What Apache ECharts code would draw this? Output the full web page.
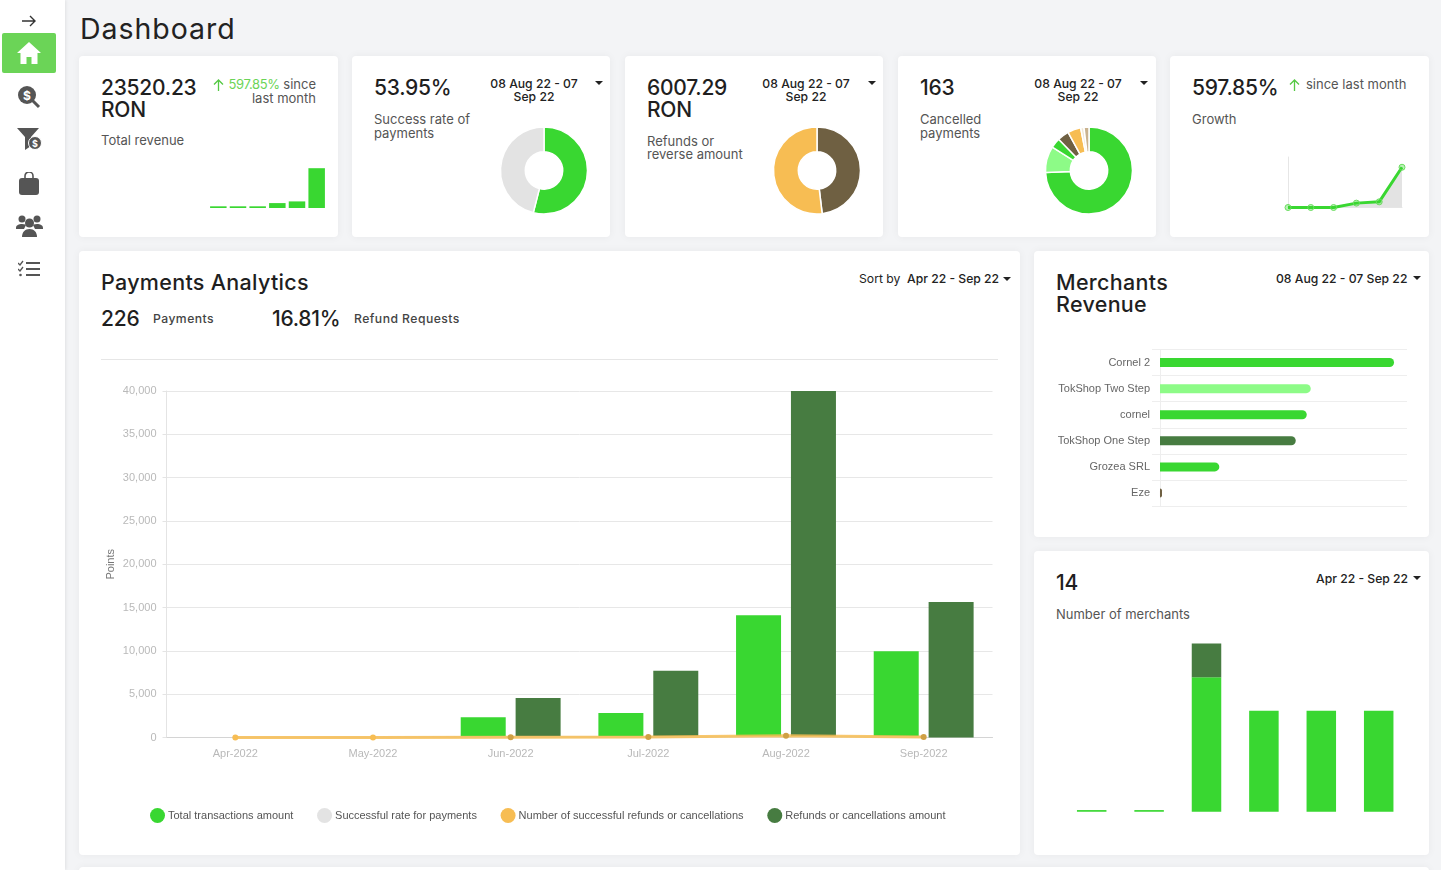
<!DOCTYPE html>
<html>
<head>
<meta charset="utf-8">
<title>Dashboard</title>
<script src="https://cdn.jsdelivr.net/npm/echarts@6/dist/echarts.min.js"></script>
<style>
html, body { margin: 0; padding: 0; width: 1441px; height: 870px; overflow: hidden; background: #f3f4f6; font-family: Inter, "Noto Sans", sans-serif; color: #1f1f1f; }
.side { position: absolute; left: 0; top: 0; width: 65px; height: 870px; background: #fff; box-shadow: 1px 0 3px rgba(0,0,0,.08); }
.home { position: absolute; left: 2px; top: 33px; width: 54px; height: 40px; background: #6bd457; border-radius: 2px; }
.card { position: absolute; background: #fff; border-radius: 4px; box-shadow: 0 0 8px rgba(0,0,0,.05); }
.t { position: absolute; white-space: nowrap; }
.big { font-size: 21.5px; font-weight: 500; line-height: 21.5px; color: #1f1f1f; letter-spacing: .3px; }
.num { font-size: 21px; font-weight: 500; line-height: 22px; color: #1f1f1f; letter-spacing: -.25px; }
.sub { font-size: 13px; line-height: 13.5px; color: #555; }
.date { font-size: 12.2px; font-weight: 500; line-height: 13px; color: #222; text-align: center; }
.label { font-size: 12.2px; font-weight: 500; line-height: 13px; color: #444; letter-spacing: .45px; }
.caret { position: absolute; width: 0; height: 0; border-left: 4px solid transparent; border-right: 4px solid transparent; border-top: 4px solid #222; }
.chart { position: absolute; }
svg { position: absolute; }
</style>
</head>
<body>
<div class="side">
  <svg style="left:21px;top:14px" width="16" height="14" viewBox="0 0 16 14" fill="none" stroke="#333" stroke-width="1.4"><path d="M1 7h13M9 2l5 5-5 5"/></svg>
  <div class="home"></div>
  <svg style="left:17px;top:41px" width="24" height="24" viewBox="0 0 24 24" fill="#fff"><path d="M12 1L0 12h3.500v11h6v-7h5v7h6V12H24z"/></svg>
  <svg style="left:17px;top:85px" width="24" height="24" viewBox="0 0 24 24"><circle cx="10" cy="10" r="9" fill="#555"/><path d="M15 15l7 7" stroke="#555" stroke-width="3"/><text x="10" y="14.500" font-size="12" font-weight="700" fill="#fff" text-anchor="middle">$</text></svg>
  <svg style="left:16px;top:127px" width="27" height="24" viewBox="0 0 27 24"><path d="M1 1h22l-8 9v9l-6 4V10z" fill="#555"/><circle cx="19" cy="16" r="6.500" fill="#555" stroke="#fff"/><text x="19" y="19.500" font-size="9" font-weight="700" fill="#fff" text-anchor="middle">$</text></svg>
  <svg style="left:19px;top:172px" width="20" height="23" viewBox="0 0 20 23"><rect x="0" y="6" width="20" height="17" rx="3" fill="#555"/><path d="M6 9V4a4 4 0 0 1 8 0v5" fill="none" stroke="#555" stroke-width="1.600"/></svg>
  <svg style="left:16px;top:214px" width="27" height="23" viewBox="0 0 27 23" fill="#555"><circle cx="6" cy="5" r="3.500"/><circle cx="21" cy="5" r="3.500"/><path d="M0 14c0-3 3-4 6-4s4 1 4 1l-2 4H0zM27 14c0-3-3-4-6-4s-4 1-4 1l2 4h8z"/><circle cx="13.500" cy="9" r="4.500"/><path d="M6 23c0-5 3-8 7.500-8s7.500 3 7.500 8z"/></svg>
  <svg style="left:18px;top:260px" width="22" height="18" viewBox="0 0 22 18" fill="none" stroke="#555" stroke-width="2"><path d="M8 3h14M8 9h14M8 15h14"/><path d="M0 3l2 2 3-4M0 9l2 2 3-4" stroke-width="1.300"/><circle cx="2.500" cy="15" r="1.300" fill="#555" stroke="none"/></svg>
</div>

<div class="t" style="left:80px;top:12px;font-size:28.500px;line-height:34px;color:#222;letter-spacing:.95px">Dashboard</div>

<div class="card" style="left:79px;top:56px;width:259px;height:181px"></div>
<div class="card" style="left:352px;top:56px;width:258px;height:181px"></div>
<div class="card" style="left:625px;top:56px;width:258px;height:181px"></div>
<div class="card" style="left:898px;top:56px;width:258px;height:181px"></div>
<div class="card" style="left:1170px;top:56px;width:259px;height:181px"></div>
<div class="card" style="left:79px;top:251px;width:941px;height:604px"></div>
<div class="card" style="left:1034px;top:251px;width:395px;height:286px"></div>
<div class="card" style="left:1034px;top:551px;width:395px;height:304px"></div>
<div class="card" style="left:79px;top:867px;width:1350px;height:20px"></div>

<div class="t num" style="left:101px;top:76.500px">23520.23<br>RON</div>
<svg style="left:213px;top:79px" width="11" height="12" viewBox="0 0 11 12" fill="none" stroke="#55c944" stroke-width="1.300"><path d="M5.500 12V1M1 5.500l4.500-4.500 4.500 4.500"/></svg>
<div class="t sub" style="right:1125px;top:78px;text-align:right"><span style="color:#6bd457;letter-spacing:-.35px">597.85%</span> since<br>last month</div>
<div class="t sub" style="left:101px;top:134px">Total revenue</div>

<div class="t num" style="left:374px;top:76.500px">53.95%</div>
<div class="t date" style="left:483px;width:102px;top:77px">08 Aug 22 - 07<br>Sep 22</div>
<div class="caret" style="left:595px;top:81px"></div>
<div class="t sub" style="left:374px;top:113px">Success rate of<br>payments</div>

<div class="t num" style="left:647px;top:76.500px">6007.29<br>RON</div>
<div class="t date" style="left:755px;width:102px;top:77px">08 Aug 22 - 07<br>Sep 22</div>
<div class="caret" style="left:868px;top:81px"></div>
<div class="t sub" style="left:647px;top:134.500px">Refunds or<br>reverse amount</div>

<div class="t num" style="left:920px;top:76.500px">163</div>
<div class="t date" style="left:1027px;width:102px;top:77px">08 Aug 22 - 07<br>Sep 22</div>
<div class="caret" style="left:1140px;top:81px"></div>
<div class="t sub" style="left:920px;top:113px">Cancelled<br>payments</div>

<div class="t num" style="left:1192px;top:76.500px">597.85%</div>
<svg style="left:1289px;top:79px" width="11" height="12" viewBox="0 0 11 12" fill="none" stroke="#55c944" stroke-width="1.300"><path d="M5.500 12V1M1 5.500l4.500-4.500 4.500 4.500"/></svg>
<div class="t sub" style="left:1306px;top:78px">since last month</div>
<div class="t sub" style="left:1192px;top:113px">Growth</div>

<div class="t big" style="left:101px;top:272px">Payments Analytics</div>
<div class="t date" style="left:859px;top:272px;font-weight:400">Sort by</div>
<div class="t date" style="left:907px;top:272px">Apr 22 - Sep 22</div>
<div class="caret" style="left:1003px;top:277px"></div>
<div class="t num" style="left:101px;top:308px">226</div>
<div class="t label" style="left:153px;top:312px">Payments</div>
<div class="t num" style="left:272px;top:308px">16.81%</div>
<div class="t label" style="left:354px;top:312px">Refund Requests</div>
<div style="position:absolute;left:101px;top:359px;width:897px;height:1px;background:#e6e6e6"></div>

<div class="t big" style="left:1056px;top:272px">Merchants<br>Revenue</div>
<div class="t date" style="left:1276px;top:272px">08 Aug 22 - 07 Sep 22</div>
<div class="caret" style="left:1413px;top:276px"></div>

<div class="t num" style="left:1056px;top:572px">14</div>
<div class="t date" style="left:1316px;top:572px">Apr 22 - Sep 22</div>
<div class="caret" style="left:1413px;top:576px"></div>
<div class="t sub" style="left:1056px;top:608px">Number of merchants</div>

<div id="revenueBars" class="chart" style="left:200px;top:160px;width:135px;height:60px"></div>
<div id="successPie" class="chart" style="left:494px;top:120px;width:100px;height:100px"></div>
<div id="refundPie" class="chart" style="left:767px;top:120px;width:100px;height:100px"></div>
<div id="cancelPie" class="chart" style="left:1039px;top:120px;width:100px;height:100px"></div>
<div id="growthLine" class="chart" style="left:1270px;top:150px;width:150px;height:70px"></div>
<div id="analytics" class="chart" style="left:79px;top:360px;width:941px;height:490px"></div>
<div id="merchants" class="chart" style="left:1034px;top:340px;width:395px;height:180px"></div>
<div id="merchantCount" class="chart" style="left:1034px;top:630px;width:395px;height:200px"></div>

<script>
const green = '#39d731';
const darkGreen = '#477c41';
const lightGreen = '#8dfb87';
const orange = '#f7bd53';
const grey = '#e3e3e3';
const brown = '#6f6042';

const months = ['Apr-2022', 'May-2022', 'Jun-2022', 'Jul-2022', 'Aug-2022', 'Sep-2022'];
const totalAmount = [0, 0, 2340, 2820, 14100, 9950];
const refundAmount = [0, 0, 4550, 7720, 40000, 15650];
const refundCount = [0, 0, 30, 60, 190, 60];
const successRate = [0, 0, 50, 52, 54, 54];

const revenueValues = [1000, 1000, 1000, 2900, 3900, 23520];
const growthValues = [0, 0, 0, 65, 84, 598];
const successSlices = [53.95, 46.05];
const refundSlices = [48.1, 51.9];
const cancelSlices = [121, 16, 6, 7, 8, 2, 3];

const merchantNames = ['Cornel 2', 'TokShop Two Step', 'cornel', 'TokShop One Step', 'Grozea SRL', 'Eze'];
const merchantRevenue = [7560, 4870, 4740, 4385, 1916, 65];
const merchantColors = [green, lightGreen, green, darkGreen, green, brown];

const countActive = [0.05, 0.05, 4, 3, 3, 3];
const countNew = [0, 0, 1, 0, 0, 0];

const legendNames = ['Total transactions amount', 'Successful rate for payments', 'Number of successful refunds or cancellations', 'Refunds or cancellations amount'];

const display_pie = (id, values, colors) => {
    const myChart = echarts.init(document.getElementById(id));
    myChart.setOption({
        animation: false,
        series: [{
            type: 'pie',
            center: [50, 50.5],
            radius: [18.7, 43.5],
            silent: true,
            label: { show: false },
            labelLine: { show: false },
            itemStyle: { borderColor: '#fff', borderWidth: 1.5 },
            color: colors,
            data: values.map(v => ({ value: v }))
        }]
    });
}

const display_revenue = () => {
    const myChart = echarts.init(document.getElementById('revenueBars'));
    myChart.setOption({
        animation: false,
        grid: { left: 8.5, right: 8.5, top: 4, bottom: 12 },
        xAxis: { type: 'category', show: false, data: months },
        yAxis: { type: 'value', show: false, min: 0, max: 26000 },
        series: [{ type: 'bar', barWidth: 16.5, color: green, data: revenueValues }]
    });
}

const display_growth = () => {
    const myChart = echarts.init(document.getElementById('growthLine'));
    myChart.setOption({
        animation: false,
        grid: { left: 18, right: 18, top: 7, bottom: 12.5 },
        xAxis: {
            type: 'category', boundaryGap: false, data: months,
            axisLabel: { show: false }, axisTick: { show: false },
            axisLine: { lineStyle: { color: '#e6e6e6' } }
        },
        yAxis: {
            type: 'value', min: 0, max: 750,
            axisLabel: { show: false }, axisTick: { show: false }, splitLine: { show: false },
            axisLine: { show: true, lineStyle: { color: '#e6e6e6' } }
        },
        series: [{
            type: 'line',
            clip: false,
            data: growthValues,
            symbol: 'circle',
            symbolSize: 6,
            lineStyle: { color: green, width: 3 },
            itemStyle: { color: 'rgba(57,215,49,.35)', borderColor: '#6bdc60', borderWidth: 1 },
            areaStyle: { color: grey, opacity: 1 }
        }]
    });
}

const display_analytics = () => {
    const myChart = echarts.init(document.getElementById('analytics'));
    const lineLabel = { fontFamily: 'Liberation Sans', fontSize: 11, color: '#b9b9b9' };
    myChart.setOption({
        animation: false,
        grid: { left: 87.5, right: 27.5, top: 31, bottom: 112.5 },
        legend: {
            data: legendNames,
            top: 443,
            left: 66,
            icon: 'circle',
            itemWidth: 15,
            itemHeight: 15,
            itemGap: 23.7,
            textStyle: { fontFamily: 'Liberation Sans', fontSize: 11, color: '#555', padding: [0, 0, 0, -2] }
        },
        xAxis: {
            type: 'category',
            data: months,
            axisLabel: { ...lineLabel, margin: 11 },
            axisTick: { show: false },
            axisLine: { lineStyle: { color: '#d4d4d4' } }
        },
        yAxis: {
            type: 'value',
            min: 0,
            max: 40000,
            interval: 5000,
            name: 'Points',
            nameLocation: 'middle',
            nameGap: 50,
            nameMoveOverlap: false,
            nameTextStyle: { fontFamily: 'Liberation Sans', fontSize: 11, color: '#777' },
            axisLabel: { ...lineLabel, margin: 10 },
            axisLine: { show: true, lineStyle: { color: '#e4e4e4' } },
            axisTick: { show: true, length: 4, lineStyle: { color: '#e4e4e4' } },
            splitLine: { lineStyle: { color: '#e7e7e7' } }
        },
        series: [
            { name: legendNames[0], type: 'bar', barWidth: 45, barGap: '22%', color: green, data: totalAmount },
            { name: legendNames[3], type: 'bar', barWidth: 45, color: darkGreen, data: refundAmount },
            { name: legendNames[1], type: 'line', color: grey, symbol: 'none', lineStyle: { width: 2 }, data: successRate },
            {
                name: legendNames[2], type: 'line', color: orange, symbol: 'circle', symbolSize: 6,
                lineStyle: { width: 3, opacity: .85 },
                itemStyle: { color: p => p.dataIndex >= 2 ? '#cfa045' : orange },
                data: refundCount
            }
        ]
    });
}

const display_merchants = () => {
    const myChart = echarts.init(document.getElementById('merchants'));
    myChart.setOption({
        animation: false,
        grid: { left: 118, width: 255, top: 9.5, height: 156.5 },
        xAxis: { type: 'value', show: false, min: -258, max: 7978 },
        yAxis: {
            type: 'category',
            inverse: true,
            data: merchantNames,
            axisLabel: { fontFamily: 'Liberation Sans', fontSize: 11, color: '#666', margin: 2 },
            axisTick: { show: false },
            axisLine: { show: true, onZero: true, lineStyle: { color: '#eeeeee' } },
            splitLine: { show: true, lineStyle: { color: '#eeeeee' } }
        },
        series: [{
            type: 'bar',
            barWidth: 9,
            itemStyle: { borderRadius: [0, 5, 5, 0], color: p => merchantColors[p.dataIndex] },
            data: merchantRevenue
        }]
    });
}

const display_count = () => {
    const myChart = echarts.init(document.getElementById('merchantCount'));
    myChart.setOption({
        animation: false,
        grid: { left: 29, width: 344.4, top: 13.5, height: 168.25 },
        xAxis: { type: 'category', show: false, data: months },
        yAxis: { type: 'value', show: false, min: 0, max: 5 },
        series: [
            { type: 'bar', stack: 'count', barWidth: 29.5, color: green, data: countActive },
            { type: 'bar', stack: 'count', barWidth: 29.5, color: darkGreen, data: countNew }
        ]
    });
}

display_revenue();
display_pie('successPie', successSlices, [green, grey]);
display_pie('refundPie', refundSlices, [brown, orange]);
display_pie('cancelPie', cancelSlices, [green, lightGreen, green, brown, orange, '#f1e7d3', '#c9b28f']);
display_growth();
display_analytics();
display_merchants();
display_count();
</script>
</body>
</html>
